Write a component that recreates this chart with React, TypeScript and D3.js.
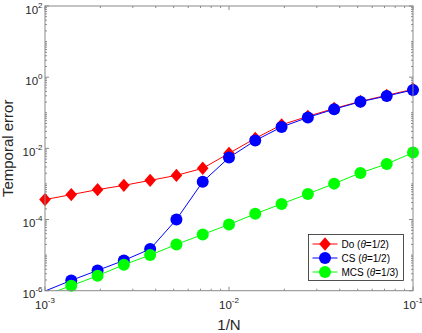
import React, { useEffect, useRef } from 'react';
import * as d3 from 'd3';

// 1/N values
const invN = [1e-3, 1.389e-3, 1.931e-3, 2.683e-3, 3.728e-3, 5.179e-3, 7.197e-3, 1e-2, 1.389e-2, 1.931e-2, 2.683e-2, 3.728e-2, 5.179e-2, 7.197e-2, 1e-1];

// temporal errors
const errDo = [3.63e-4, 5.01e-4, 6.92e-4, 9.12e-4, 1.26e-3, 1.74e-3, 2.75e-3, 7.24e-3, 1.91e-2, 4.57e-2, 7.94e-2, 0.132, 0.209, 0.309, 0.457];
const errCS = [9.77e-7, 1.95e-6, 3.72e-6, 7.08e-6, 1.48e-5, 1.0e-4, 1.15e-3, 5.5e-3, 1.66e-2, 3.98e-2, 7.41e-2, 0.126, 0.204, 0.295, 0.437];
const errMCS = [7.41e-7, 1.38e-6, 2.63e-6, 5.37e-6, 1.0e-5, 2.0e-5, 3.8e-5, 7.24e-5, 1.45e-4, 2.75e-4, 5.25e-4, 1.02e-3, 2.04e-3, 3.63e-3, 7.59e-3];

const seriesNames = ['Do', 'CS', 'MCS'];
const seriesTheta = ['1/2', '1/2', '1/3'];

const xTicks = [-3, -2, -1];
const yTicks = [2, 0, -2, -4, -6];

export default function App() {
	const svgRef = useRef<SVGSVGElement>(null);

	useEffect(() => {
		const W = 422, H = 333;
		const left = 45, right = 413, top = 6, bottom = 290.7;
		const svg = d3.select(svgRef.current);
		svg.selectAll('*').remove();

		const x = d3.scaleLog().domain([1e-3, 1e-1]).range([left, right]);
		const y = d3.scaleLog().domain([1e-6, 1e2]).range([bottom, top]);

		svg.append('rect').attr('width', W).attr('height', H).attr('fill', '#fff');

		svg.append('defs').append('clipPath').attr('id', 'plotclip')
			.append('rect').attr('x', left).attr('y', top).attr('width', right - left).attr('height', bottom - top);

		const axColor = '#8a8a8a';
		const font = 'Liberation Sans, Arial, Helvetica, sans-serif';

		// ticks, inward on all four sides
		const g = svg.append('g');
		const xMinor: number[] = [], yMinor: number[] = [];
		for (let e = -3; e < -1; e++) for (let m = 2; m <= 9; m++) xMinor.push(m * Math.pow(10, e));
		for (let e = -6; e < 2; e++) for (let m = 1; m <= 9; m++) if (!(m === 1 && e % 2 === 0)) yMinor.push(m * Math.pow(10, e));

		xMinor.forEach(v => {
			g.append('line').attr('x1', x(v)).attr('x2', x(v)).attr('y1', bottom).attr('y2', bottom - 2).attr('stroke', axColor);
			g.append('line').attr('x1', x(v)).attr('x2', x(v)).attr('y1', top).attr('y2', top + 2).attr('stroke', axColor);
		});
		xTicks.forEach(e => {
			const v = Math.pow(10, e);
			g.append('line').attr('x1', x(v)).attr('x2', x(v)).attr('y1', bottom).attr('y2', bottom - 4).attr('stroke', axColor);
			g.append('line').attr('x1', x(v)).attr('x2', x(v)).attr('y1', top).attr('y2', top + 4).attr('stroke', axColor);
		});
		yMinor.forEach(v => {
			g.append('line').attr('y1', y(v)).attr('y2', y(v)).attr('x1', left).attr('x2', left + 2).attr('stroke', axColor);
			g.append('line').attr('y1', y(v)).attr('y2', y(v)).attr('x1', right).attr('x2', right - 2).attr('stroke', axColor);
		});
		yTicks.forEach(e => {
			const v = Math.pow(10, e);
			g.append('line').attr('y1', y(v)).attr('y2', y(v)).attr('x1', left).attr('x2', left + 4).attr('stroke', axColor);
			g.append('line').attr('y1', y(v)).attr('y2', y(v)).attr('x1', right).attr('x2', right - 4).attr('stroke', axColor);
		});

		// tick labels
		xTicks.forEach(e => {
			const t = svg.append('text').attr('x', x(Math.pow(10, e))).attr('y', bottom + 18.5)
				.attr('text-anchor', 'middle').attr('font-family', font).attr('font-size', 11.5).attr('fill', '#262626');
			t.append('tspan').text('10');
			t.append('tspan').attr('dy', -6).attr('font-size', 8).text('-' + Math.abs(e));
		});
		yTicks.forEach(e => {
			const t = svg.append('text').attr('x', left - 2.5).attr('y', y(Math.pow(10, e)) + 7.5)
				.attr('text-anchor', 'end').attr('font-family', font).attr('font-size', 11.5).attr('fill', '#262626');
			t.append('tspan').text('10');
			t.append('tspan').attr('dy', -6).attr('font-size', 8).text(e < 0 ? '-' + Math.abs(e) : String(e));
		});

		// axis labels
		svg.append('text').attr('x', (left + right) / 2).attr('y', 330)
			.attr('text-anchor', 'middle').attr('font-family', font).attr('font-size', 15).attr('fill', '#262626').text('1/N');
		svg.append('text').attr('transform', `translate(12.5,${(top + bottom) / 2}) rotate(-90)`)
			.attr('text-anchor', 'middle').attr('font-family', font).attr('font-size', 15).attr('fill', '#262626').text('Temporal error');

		// series
		const series = [
			{ vals: errDo, color: '#ff0000', marker: 'diamond' },
			{ vals: errCS, color: '#0000ff', marker: 'circle' },
			{ vals: errMCS, color: '#00ff00', marker: 'circle' },
		];
		const line = d3.line<number>().x((d, i) => x(invN[i])).y(d => y(d));
		const diamond = (cx: number, cy: number) => `M${cx},${cy - 6.7}L${cx + 5.8},${cy}L${cx},${cy + 6.7}L${cx - 5.8},${cy}Z`;

		const plot = svg.append('g').attr('clip-path', 'url(#plotclip)');
		series.forEach(s => {
			plot.append('path').attr('d', line(s.vals)).attr('fill', 'none').attr('stroke', s.color).attr('stroke-width', 1);
			s.vals.forEach((v, i) => {
				if (v < 1e-6) return;
				if (s.marker === 'diamond') {
					svg.append('path').attr('d', diamond(x(invN[i]), y(v))).attr('fill', s.color);
				} else {
					svg.append('circle').attr('cx', x(invN[i])).attr('cy', y(v)).attr('r', 6).attr('fill', s.color);
				}
			});
		});

		// box
		svg.append('rect').attr('x', left).attr('y', top).attr('width', right - left).attr('height', bottom - top)
			.attr('fill', 'none').attr('stroke', axColor).attr('stroke-width', 1);

		// legend
		const lx = 308.5, ly = 234.5, lw = 95, lh = 46;
		svg.append('rect').attr('x', lx).attr('y', ly).attr('width', lw).attr('height', lh)
			.attr('fill', '#fff').attr('stroke', '#262626').attr('stroke-width', 0.8);
		series.forEach((s, i) => {
			const cy = ly + 9.5 + i * 14;
			svg.append('line').attr('x1', lx + 4).attr('x2', lx + 29).attr('y1', cy).attr('y2', cy).attr('stroke', s.color);
			if (s.marker === 'diamond') svg.append('path').attr('d', diamond(lx + 16.5, cy)).attr('fill', s.color);
			else svg.append('circle').attr('cx', lx + 16.5).attr('cy', cy).attr('r', 6).attr('fill', s.color);
			const t = svg.append('text').attr('x', lx + 33).attr('y', cy + 3.5)
				.attr('font-family', font).attr('font-size', 10).attr('fill', '#000');
			t.append('tspan').text(seriesNames[i] + ' (');
			t.append('tspan').attr('font-style', 'italic').text('θ');
			t.append('tspan').text('=' + seriesTheta[i] + ')');
		});
	}, []);

	return (
		<svg ref={svgRef} width={422} height={333} style={{ position: 'absolute', left: 0, top: 0 }} />
	);
}
